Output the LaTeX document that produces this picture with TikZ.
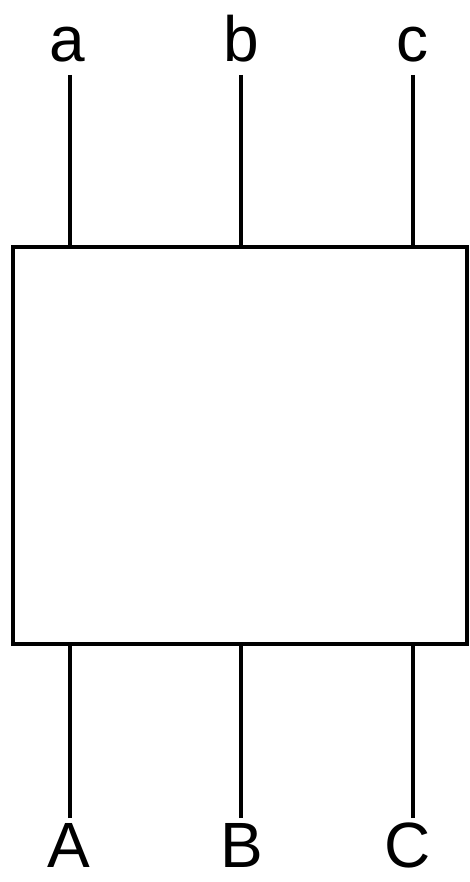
\documentclass[tikz,border=0pt]{standalone}
\usepackage{fontspec}
\setmainfont{Liberation Sans}
\begin{document}
\begin{tikzpicture}[x=1pt,y=-1pt,
  lbl/.style={font=\fontsize{64}{64}\selectfont, inner sep=0pt, text depth=0pt, anchor=base},
  wire/.style={line width=4pt},
  blk/.style={draw, line width=4.5pt, minimum width=454pt, minimum height=397pt, inner sep=0pt}]
\useasboundingbox (0,0) rectangle (469,882);
\node[lbl] (a) at (67,62) {a};
\node[lbl] (b) at (241,62) {b};
\node[lbl] (c) at (412,62) {c};
\node[lbl] (A) at (69,867) {A};
\node[lbl] (B) at (242,867) {B};
\node[lbl] (C) at (408,867) {C};
\node[blk] (box) at (240,445.5) {};
\coordinate (ta) at (69.5,75);
\coordinate (tb) at (241,75);
\coordinate (tc) at (413,75);
\coordinate (ba) at (69.5,818);
\coordinate (bb) at (241,818);
\coordinate (bc) at (413,818);
\draw[wire] (ta) -- (ta |- box.north);
\draw[wire] (tb) -- (tb |- box.north);
\draw[wire] (tc) -- (tc |- box.north);
\draw[wire] (ba) -- (ba |- box.south);
\draw[wire] (bb) -- (bb |- box.south);
\draw[wire] (bc) -- (bc |- box.south);
\end{tikzpicture}
\end{document}
